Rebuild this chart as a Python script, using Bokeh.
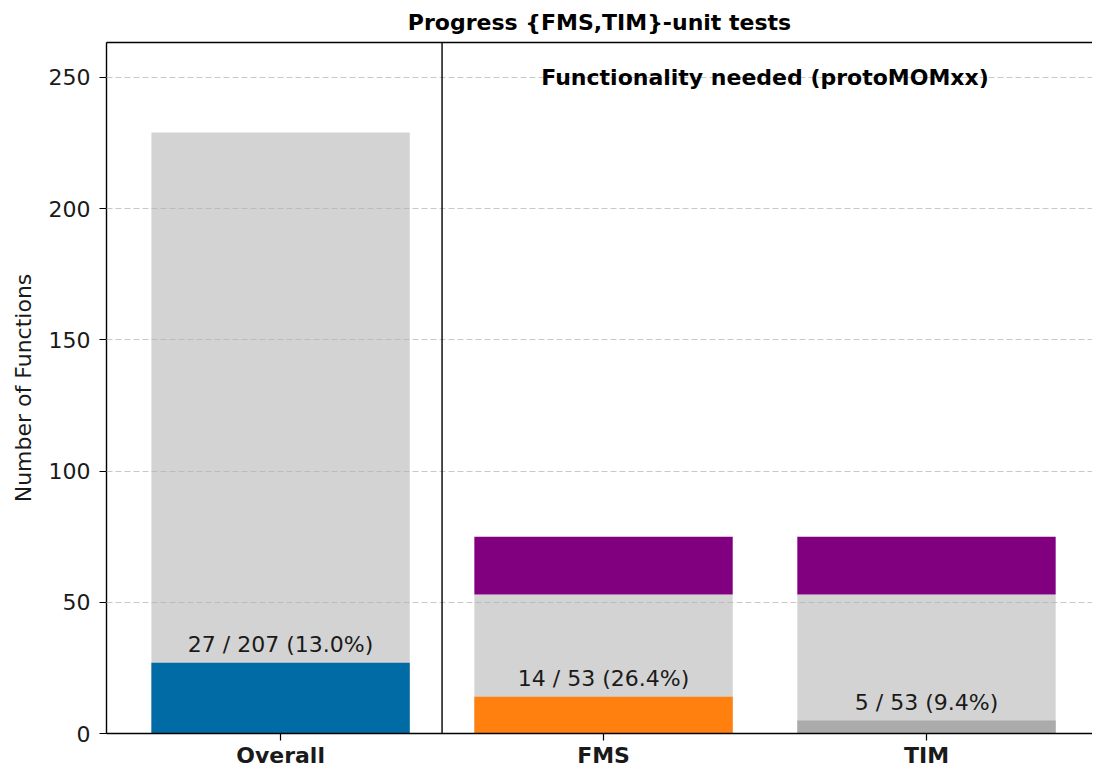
from bokeh.plotting import figure
from bokeh.models import Range1d, FixedTicker, Span, ColumnDataSource, Label, LinearAxis
from bokeh.embed import file_html
from bokeh.resources import INLINE

# ---- data ----
categories = ["Overall", "FMS", "TIM"]
implemented = [27, 14, 5]
tested_total = [207, 53, 53]
bar_totals = [229, 53, 53]
needed_extra = [0, 22, 22]
done_colors = ["#006BA4", "#FF800E", "#ABABAB"]
y_ticks = [0, 50, 100, 150, 200, 250]

FONT = "DejaVu Sans"
xs = list(range(len(categories)))

p = figure(width=1092, height=770, output_backend="svg", toolbar_location=None,
           x_range=Range1d(-0.539, 2.514), y_range=Range1d(0, 263.3),
           min_border_left=106, min_border_right=0, min_border_top=42, min_border_bottom=35)

p.title.text = "Progress {FMS,TIM}-unit tests"
p.title.align = "center"
p.title.text_font = FONT
p.title.text_font_size = "22px"
p.title.text_font_style = "bold"
p.title.text_color = "black"
p.title.standoff = 15

# gray total bars
p.vbar(x=xs, bottom=0, top=bar_totals, width=0.8, color="#D3D3D3", line_color=None)
# purple "needed" segments
nx = [x for x, n in zip(xs, needed_extra) if n > 0]
nb = [t for t, n in zip(bar_totals, needed_extra) if n > 0]
nt = [t + n for t, n in zip(bar_totals, needed_extra) if n > 0]
p.vbar(x=nx, bottom=nb, top=nt, width=0.8, color="#800080", line_color=None)
# implemented bars
p.vbar(x=xs, bottom=0, top=implemented, width=0.8, color=done_colors, line_color=None)

# labels
lab_src = ColumnDataSource(dict(
    x=xs,
    y=[d + 7 for d in implemented],
    t=[f"{d} / {t} ({100*d/t:.1f}%)" for d, t in zip(implemented, tested_total)],
))
p.text(x="x", y="y", text="t", source=lab_src, text_align="center",
       text_baseline="middle", text_font_size="22px", text_color="#1a1a1a",
       text_font={"value": FONT})

# separator
p.add_layout(Span(location=0.5, dimension="height", line_color="black", line_width=1.4))

p.add_layout(Label(x=1.5, y=250, text="Functionality needed (protoMOMxx)",
                   text_align="center", text_baseline="middle", text_font=FONT,
                   text_font_size="22px", text_font_style="bold", text_color="black"))

# axes
p.xaxis.ticker = FixedTicker(ticks=xs)
p.xaxis.major_label_overrides = {i: c for i, c in enumerate(categories)}
p.xaxis.major_label_text_font_style = "bold"
p.yaxis.ticker = FixedTicker(ticks=y_ticks)
p.yaxis.axis_label = "Number of Functions"
for ax in (p.xaxis[0], p.yaxis[0]):
    ax.major_label_text_font = FONT
    ax.major_label_text_font_size = "22px"
    ax.major_label_text_color = "#1a1a1a"
    ax.axis_line_color = "black"
    ax.axis_line_width = 1.4
    ax.major_tick_line_color = "black"
    ax.major_tick_line_width = 1.2
    ax.major_tick_out = 7
    ax.major_tick_in = 0
    ax.minor_tick_line_color = None
p.yaxis.major_label_standoff = 9
p.xaxis.major_label_standoff = 2
p.yaxis.axis_label_text_font = FONT
p.yaxis.axis_label_text_font_size = "22px"
p.yaxis.axis_label_text_font_style = "normal"
p.yaxis.axis_label_text_color = "#1a1a1a"
p.yaxis.axis_label_standoff = 10

p.outline_line_color = None
# top spine
top = LinearAxis(ticker=FixedTicker(ticks=[]), major_label_text_font_size="0px",
                 axis_line_color="black", axis_line_width=1.4,
                 major_tick_line_color=None, minor_tick_line_color=None)
p.add_layout(top, "above")

p.xgrid.grid_line_color = None
p.ygrid.ticker = FixedTicker(ticks=y_ticks)
p.ygrid.grid_line_color = "#b0b0b0"
p.ygrid.grid_line_alpha = 0.7
p.ygrid.grid_line_dash = "6 3"
p.ygrid.level = "guide"
p.background_fill_color = "white"
p.border_fill_color = "white"

open("out.html", "w").write(file_html(p, INLINE))
